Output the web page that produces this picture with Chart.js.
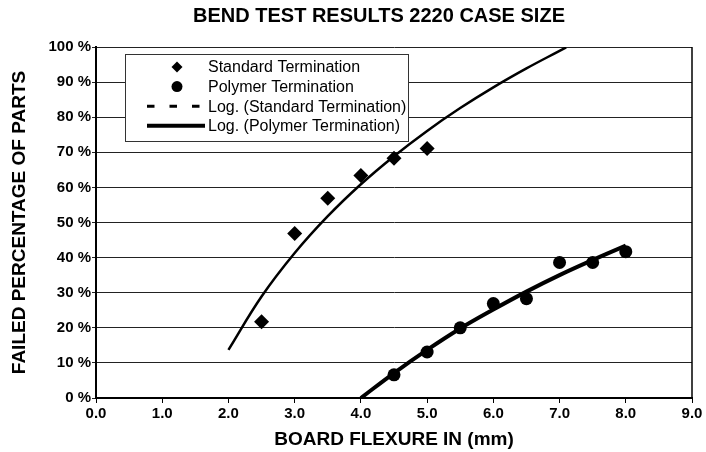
<!DOCTYPE html>
<html>
<head>
<meta charset="utf-8">
<script src="https://cdn.jsdelivr.net/npm/chart.js@4.4.1/dist/chart.umd.min.js"></script>
<style>
  html, body { margin: 0; padding: 0; background: #fff; }
  #wrap { width: 706px; height: 452px; }
</style>
</head>
<body>
<div id="wrap"><canvas id="bendChart" width="706" height="452"></canvas></div>
<script>
// Bend test results - failed parts vs board flexure
const standardFlex = [2.5, 3.0, 3.5, 4.0, 4.5, 5.0];
const standardFailed = [21.7, 46.9, 56.9, 63.4, 68.3, 71.1];
const polymerFlex = [4.5, 5.0, 5.5, 6.0, 6.5, 7.0, 7.5, 8.0];
const polymerFailed = [6.6, 13.1, 20.0, 26.9, 28.3, 38.6, 38.6, 41.7];

// log trend lines
const standardTrendFlex = [2.0, 2.5, 3.0, 3.5, 4.0, 4.5, 5.0, 5.5, 6.0, 6.5, 7.0, 7.1];
const standardTrend = [13.7, 28.9, 41.3, 51.8, 60.9, 68.9, 76.1, 82.6, 88.5, 93.9, 98.9, 99.9];
const polymerTrendFlex = [4.0, 4.5, 5.0, 5.5, 6.0, 6.5, 7.0, 7.5, 8.0];
const polymerTrend = [0, 7.1, 13.7, 19.8, 25.2, 30.3, 35.0, 39.3, 43.4];

const xTicks = [0, 1, 2, 3, 4, 5, 6, 7, 8, 9];
const yTicks = [0, 10, 20, 30, 40, 50, 60, 70, 80, 90, 100];

const FONT = '"Liberation Sans", Arial, Helvetica, sans-serif';
Chart.defaults.font.family = FONT;
Chart.defaults.color = '#000';

const pts = (xs, ys) => xs.map((x, i) => ({ x: x, y: ys[i] }));

// title, right frame line and the legend box inside the plot
const extras = {
  id: 'extras',
  afterDatasetsDraw(chart) {
    const { ctx, chartArea } = chart;
    ctx.save();
    // right border
    ctx.strokeStyle = '#000';
    ctx.lineWidth = 1.5;
    ctx.beginPath();
    ctx.moveTo(chartArea.right, chartArea.top);
    ctx.lineTo(chartArea.right, chartArea.bottom);
    ctx.stroke();

    // legend
    const x0 = chartArea.left + 29, y0 = chartArea.top + 7, w = 283, h = 87;
    ctx.fillStyle = '#fff';
    ctx.fillRect(x0, y0, w, h);
    ctx.strokeStyle = '#333';
    ctx.lineWidth = 1;
    ctx.strokeRect(x0 + 0.5, y0 + 0.5, w, h);
    ctx.font = '16px ' + FONT;
    ctx.textBaseline = 'middle';
    ctx.textAlign = 'left';
    chart.data.datasets.forEach((ds, i) => {
      const y = y0 + 13 + i * 19.6;
      const mx = x0 + 52;
      ctx.fillStyle = '#000';
      ctx.strokeStyle = '#000';
      if (ds.type === 'line') {
        ctx.lineWidth = ds.legendWidth;
        ctx.setLineDash(ds.legendDash || []);
        ctx.beginPath();
        ctx.moveTo(x0 + 22, y);
        ctx.lineTo(x0 + 80, y);
        ctx.stroke();
        ctx.setLineDash([]);
      } else if (ds.pointStyle === 'rectRot') {
        ctx.beginPath();
        ctx.moveTo(mx, y - 5.5);
        ctx.lineTo(mx + 5.5, y);
        ctx.lineTo(mx, y + 5.5);
        ctx.lineTo(mx - 5.5, y);
        ctx.closePath();
        ctx.fill();
      } else {
        ctx.beginPath();
        ctx.arc(mx, y, 5.5, 0, Math.PI * 2);
        ctx.fill();
      }
      ctx.fillText(ds.label, x0 + 83, y + 1);
    });

    // chart title
    ctx.font = 'bold 20px ' + FONT;
    ctx.textAlign = 'center';
    ctx.fillText('BEND TEST RESULTS 2220 CASE SIZE', 379, 16);
    ctx.restore();
  }
};

const ctx = document.getElementById('bendChart').getContext('2d');
new Chart(ctx, {
  type: 'scatter',
  data: {
    datasets: [
      {
        label: 'Standard Termination',
        data: pts(standardFlex, standardFailed),
        pointStyle: 'rectRot',
        pointRadius: 7.5,
        backgroundColor: '#000',
        borderColor: '#000',
        borderWidth: 0,
        order: 1
      },
      {
        label: 'Polymer Termination',
        data: pts(polymerFlex, polymerFailed),
        pointStyle: 'circle',
        pointRadius: 6.5,
        backgroundColor: '#000',
        borderColor: '#000',
        borderWidth: 0,
        order: 2
      },
      {
        label: 'Log. (Standard Termination)',
        type: 'line',
        data: pts(standardTrendFlex, standardTrend),
        borderColor: '#000',
        borderWidth: 2.5,
        pointRadius: 0,
        fill: false,
        tension: 0.4,
        legendDash: [7.5, 15],
        legendWidth: 3,
        order: 3
      },
      {
        label: 'Log. (Polymer Termination)',
        type: 'line',
        data: pts(polymerTrendFlex, polymerTrend),
        borderColor: '#000',
        borderWidth: 4,
        pointRadius: 0,
        fill: false,
        tension: 0.4,
        legendWidth: 4,
        order: 4
      }
    ]
  },
  options: {
    responsive: false,
    animation: false,
    layout: { padding: { top: 47, right: 14, left: 0, bottom: 0 } },
    plugins: {
      legend: { display: false },
      tooltip: { enabled: false }
    },
    scales: {
      x: {
        type: 'linear',
        min: 0,
        max: 9,
        afterBuildTicks: s => { s.ticks = xTicks.map(v => ({ value: v })); },
        afterFit: s => { s.height = 54; },
        ticks: {
          font: { size: 15, weight: 'bold' },
          padding: 2,
          maxRotation: 0,
          autoSkip: false,
          callback: v => v.toFixed(1)
        },
        grid: { drawOnChartArea: false, drawTicks: true, tickLength: 5, color: '#000', lineWidth: 1 },
        border: { color: '#000', width: 2 },
        title: {
          display: true,
          text: 'BOARD FLEXURE IN (mm)',
          font: { size: 19, weight: 'bold' },
          padding: { top: 0, bottom: 1 }
        }
      },
      y: {
        min: 0,
        max: 100,
        afterBuildTicks: s => { s.ticks = yTicks.map(v => ({ value: v })); },
        afterFit: s => { s.width = 96; },
        ticks: {
          font: { size: 15, weight: 'bold' },
          padding: 1,
          callback: v => v + ' %'
        },
        grid: { color: '#222', lineWidth: 1, tickLength: 4 },
        border: { color: '#000', width: 2 },
        title: {
          display: true,
          text: 'FAILED PERCENTAGE OF PARTS',
          font: { size: 19, weight: 'bold' },
          padding: { top: 8, bottom: 0 }
        }
      }
    }
  },
  plugins: [extras]
});
</script>
</body>
</html>
